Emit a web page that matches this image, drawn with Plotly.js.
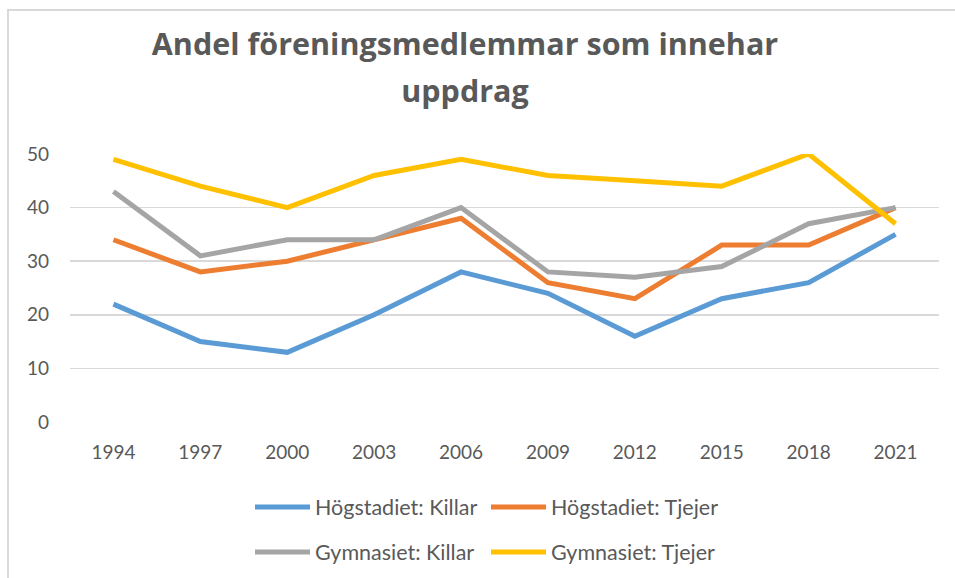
<!DOCTYPE html>
<html>
<head>
<meta charset="utf-8">
<script src="https://cdn.plot.ly/plotly-3.0.1.min.js"></script>
<style>
html,body{margin:0;padding:0;background:#fff;overflow:hidden;}
#frame{position:absolute;left:7px;top:9px;width:1000px;height:700px;border:2px solid #d9d9d9;box-sizing:border-box;}
#chart{position:absolute;left:0;top:0;width:955px;height:578px;}
</style>
</head>
<body>
<div id="frame"></div>
<div id="chart"></div>
<script>
var years = ['1994','1997','2000','2003','2006','2009','2012','2015','2018','2021'];
var hogKillar = [22, 15, 13, 20, 28, 24, 16, 23, 26, 35];
var hogTjejer = [34, 28, 30, 34, 38, 26, 23, 33, 33, 40];
var gymKillar = [43, 31, 34, 34, 40, 28, 27, 29, 37, 40];
var gymTjejer = [49, 44, 40, 46, 49, 46, 45, 44, 50, 37];
var seriesNames = ['Högstadiet: Killar','Högstadiet: Tjejer','Gymnasiet: Killar','Gymnasiet: Tjejer'];
var colors = ['#5B9BD5','#ED7D31','#A5A5A5','#FFC000'];
var yTicks = [0,10,20,30,40,50];

var FONT = 'Lato, "Open Sans", sans-serif';
var TFONT = '"Open Sans", Lato, sans-serif';
var TXT = '#595959';

function tr(vals, i, leg){
  return {x: years, y: vals, name: seriesNames[i], type:'scatter', mode:'lines',
    line:{color:colors[i], width:5}, legend: leg, hoverinfo:'skip'};
}
var data = [tr(hogKillar,0,'legend'), tr(hogTjejer,1,'legend'), tr(gymKillar,2,'legend2'), tr(gymTjejer,3,'legend2')];

var legCommon = {orientation:'h', xanchor:'left', yanchor:'middle', xref:'container', yref:'container',
  font:{family:FONT,size:21.5,color:TXT},
  itemwidth:55, entrywidth:166, bgcolor:'rgba(0,0,0,0)', traceorder:'normal'};

var layout = {
  width:955, height:578,
  margin:{l:70, r:16, t:154, b:156},
  paper_bgcolor:'rgba(0,0,0,0)', plot_bgcolor:'rgba(0,0,0,0)',
  font:{family:FONT, color:TXT},
  title:{text:'<b><span style="font-size:30.5px">Andel föreningsmedlemmar som innehar<br>uppdrag</span></b>',
    x:465/955, xref:'container', xanchor:'center',
    y:1-55/578, yref:'container', yanchor:'top', font:{family:TFONT, size:36.5, color:TXT}},
  xaxis:{type:'category', range:[-0.5,9.5], showgrid:false, zeroline:false, showline:false, ticks:'',
    tickfont:{family:FONT,size:19,color:TXT}, ticklabelstandoff:17, fixedrange:true},
  yaxis:{range:[0,50], tickvals:yTicks, showgrid:true, gridcolor:'#d9d9d9', gridwidth:1.5, zeroline:false,
    showline:false, ticks:'', tickfont:{family:FONT,size:19,color:TXT}, ticklabelstandoff:20, fixedrange:true},
  showlegend:true,
  legend: Object.assign({}, legCommon, {x:250/955, y:1-507/578}),
  legend2: Object.assign({}, legCommon, {x:250/955, y:1-552/578})
};
Plotly.newPlot('chart', data, layout, {displayModeBar:false, staticPlot:true});
</script>
</body>
</html>
